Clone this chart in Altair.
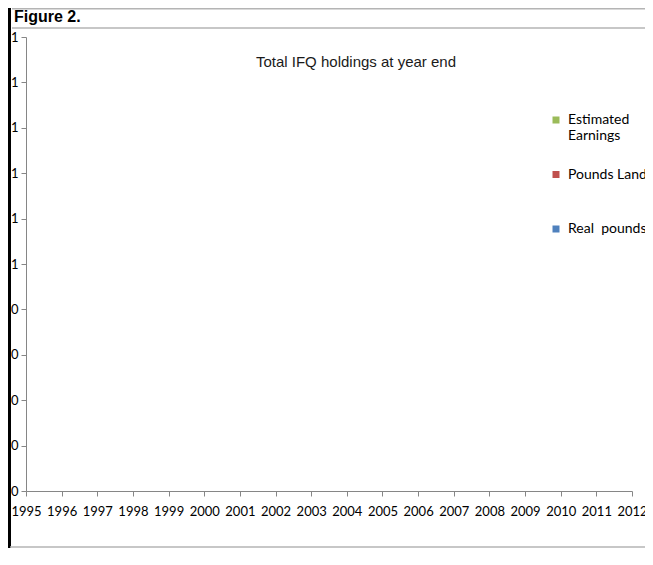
import json
import altair as alt
import pandas as pd

# ---- data (chart shows no visible bars: all values read as zero) ----
years = [1995, 1996, 1997, 1998, 1999, 2000, 2001, 2002, 2003,
         2004, 2005, 2006, 2007, 2008, 2009, 2010, 2011, 2012]
real_pounds = [0, 0, 0, 0, 0, 0, 0, 0, 0, 0, 0, 0, 0, 0, 0, 0, 0, 0]
pounds_landed = [0, 0, 0, 0, 0, 0, 0, 0, 0, 0, 0, 0, 0, 0, 0, 0, 0, 0]
estimated_earnings = [0, 0, 0, 0, 0, 0, 0, 0, 0, 0, 0, 0, 0, 0, 0, 0, 0, 0]
series_names = ["Estimated Earnings", "Pounds Landed", "Real\u00a0 pounds"]
series_colors = ["#9BBB59", "#C0504D", "#4F81BD"]
y_tick_values = [0.0, 0.1, 0.2, 0.3, 0.4, 0.5, 0.6, 0.7, 0.8, 0.9, 1.0]
y_tick_labels = ["0", "0", "0", "0", "0", "1", "1", "1", "1", "1", "1"]
figure_label = "Figure 2."
inner_title = "Total IFQ holdings at year end"

rows = []
for name, vals in zip(series_names, [estimated_earnings, pounds_landed, real_pounds]):
    for yr, v in zip(years, vals):
        rows.append({"year": yr, "series": name, "value": v})
df = pd.DataFrame(rows)

W, H = 606, 454
PAD = {"left": 18, "top": 29, "right": 13, "bottom": 57}
SVG_H = PAD["top"] + H + PAD["bottom"]
AXIS_GREY = "#868686"
FRAME_GREY = "#b4b4b4"

y_label_expr = f"{json.dumps(y_tick_labels)}[round(datum.value * 10)]"
legend_label_expr = (
    "datum.label == 'Estimated Earnings' ? ['Estimated', 'Earnings'] "
    ": [datum.label, '']"
)

bars = alt.Chart(df).mark_bar(size=20).encode(
    x=alt.X("year:O", scale=alt.Scale(type="point", padding=0),
            axis=alt.Axis(title=None, labelAngle=0, grid=False, tickSize=5,
                          labelPadding=9, labelOverlap=False,
                          domainColor=AXIS_GREY, tickColor=AXIS_GREY,
                          labelFont="Lato", labelFontSize=13, labelColor="black")),
    y=alt.Y("value:Q", stack="zero", scale=alt.Scale(domain=[0, 1], nice=False),
            axis=alt.Axis(title=None, values=y_tick_values, labelExpr=y_label_expr,
                          grid=False, tickSize=5, labelPadding=3,
                          domainColor=AXIS_GREY, tickColor=AXIS_GREY,
                          labelFont="Lato", labelFontSize=13, labelColor="black")),
    color=alt.Color("series:N",
                    scale=alt.Scale(domain=series_names, range=series_colors),
                    sort=series_names,
                    legend=alt.Legend(title=None, orient="none", legendX=523, legendY=76,
                                      symbolType="square", symbolSize=49,
                                      symbolStrokeWidth=0, labelOffset=5,
                                      labelFont="Lato", labelFontSize=14,
                                      labelColor="black", labelLimit=300,
                                      rowPadding=24.5, labelExpr=legend_label_expr)),
    order=alt.Order("series:N"),
)

one = alt.Data(values=[{}])
left_border = alt.Chart(one).mark_rule(color="black", strokeWidth=3).encode(
    x=alt.value(-16.5), y=alt.value(-PAD["top"]), y2=alt.value(SVG_H - PAD["top"]))
top_line = alt.Chart(one).mark_rule(color=FRAME_GREY, strokeWidth=1.5).encode(
    x=alt.value(-14), x2=alt.value(W + PAD["right"]), y=alt.value(-PAD["top"] + 0.75))
title_line = alt.Chart(one).mark_rule(color=FRAME_GREY, strokeWidth=1.5).encode(
    x=alt.value(-14), x2=alt.value(W + PAD["right"]), y=alt.value(-9))
bottom_line = alt.Chart(one).mark_rule(color=FRAME_GREY, strokeWidth=1.5).encode(
    x=alt.value(-16), x2=alt.value(W + PAD["right"]), y=alt.value(SVG_H - PAD["top"] - 1))

fig_label = alt.Chart(alt.Data(values=[{"t": figure_label}])).mark_text(
    font="Liberation Sans", fontSize=16, fontWeight="bold", align="left",
    baseline="alphabetic", color="black").encode(
    x=alt.value(-12), y=alt.value(-15), text="t:N")

inner = alt.Chart(alt.Data(values=[{"t": inner_title}])).mark_text(
    font="Liberation Sans", fontSize=15, align="center", baseline="middle",
    color="#1a1a1a").encode(x=alt.value(330), y=alt.value(25), text="t:N")

chart = alt.layer(bars, inner, fig_label, left_border, top_line, title_line,
                  bottom_line).properties(
    width=W, height=H,
    autosize=alt.AutoSizeParams(type="none"),
    padding=PAD,
    background="white",
).configure_view(stroke=None)

chart.save("out.html", embed_options={"renderer": "svg", "actions": False})
